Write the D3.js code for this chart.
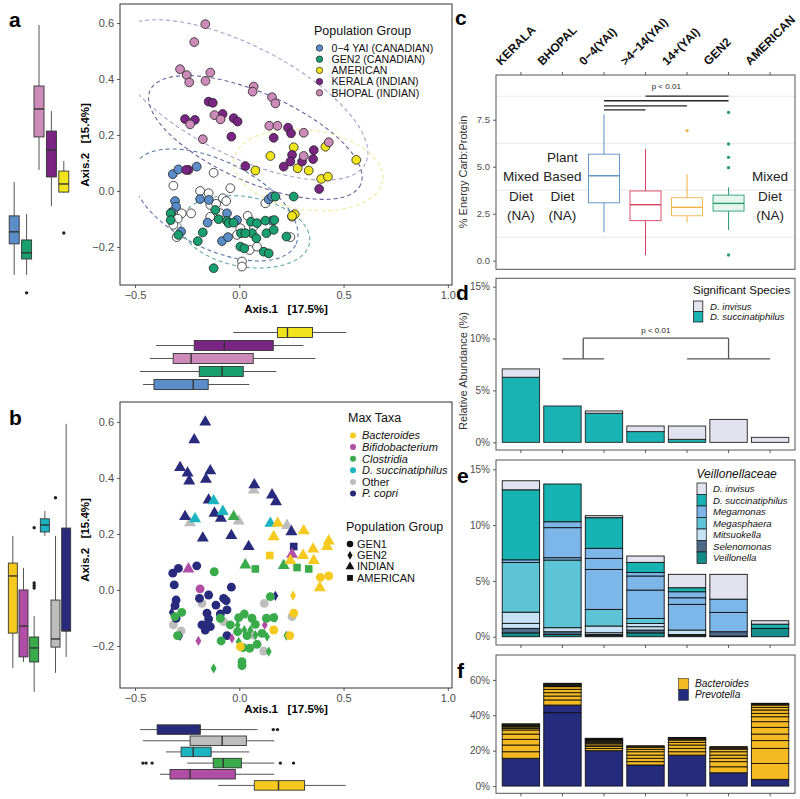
<!DOCTYPE html>
<html><head><meta charset="utf-8">
<script src="https://cdn.jsdelivr.net/npm/d3@7"></script>
<style>body{margin:0;background:#fff;} text{font-family:"Liberation Sans",Arial,Helvetica,sans-serif;}</style>
</head><body><script>
// ---------------- DATA ----------------
const aGroups = ["0−4 YAI (CANADIAN)","GEN2 (CANADIAN)","AMERICAN","KERALA (INDIAN)","BHOPAL (INDIAN)"];
const aColors = ["#5b8ec9","#18a070","#f0e41c","#7a2584","#cc8bb9"];
const aPtsOther = [[-0.123,0.065],[-0.316,0.019],[-0.188,0.0],[-0.147,-0.008],[-0.079,-0.026],[-0.063,-0.036],[-0.043,0.010],[-0.276,-0.080],[-0.295,-0.099],[-0.316,-0.121],[-0.300,-0.165],[-0.231,-0.080],[-0.139,-0.050],[-0.111,-0.046],[-0.139,-0.092],[-0.091,-0.080],[0.040,-0.089],[0.069,-0.127],[0.050,-0.211],[0.085,-0.199],[0.013,-0.252],[0.013,-0.270],[0.125,-0.044],[0.245,-0.165],[0.253,-0.092],[0.005,-0.133],[-0.011,-0.157]];
const aPts04 = [[-0.319,0.060],[-0.292,0.077],[-0.204,0.087],[-0.308,-0.036],[-0.303,-0.056],[-0.324,-0.076],[-0.279,-0.145],[-0.188,-0.029],[-0.146,-0.032],[-0.059,-0.080],[-0.011,-0.104],[-0.083,-0.179],[-0.054,-0.165],[0.157,-0.106],[0.141,-0.030],[0.157,-0.020],[-0.152,-0.113]];
const aPtsGen2 = [[-0.329,-0.080],[-0.329,-0.104],[-0.292,-0.157],[-0.199,-0.179],[-0.175,-0.148],[-0.115,-0.068],[-0.099,-0.101],[-0.059,-0.107],[0.008,-0.151],[0.005,-0.199],[0.024,-0.205],[0.056,-0.110],[0.085,-0.115],[0.061,-0.151],[0.082,-0.169],[0.117,-0.217],[0.141,-0.223],[0.168,-0.104],[0.125,-0.106],[0.130,-0.151],[0.165,-0.139],[0.226,-0.163],[0.261,-0.020],[0.173,-0.020],[-0.123,-0.276],[0.029,-0.151],[-0.051,-0.115],[-0.027,-0.113]];
const aPtsAmerican = [[0.261,0.156],[0.149,0.125],[0.280,0.081],[0.333,0.073],[0.077,0.073],[0.413,0.158],[0.561,0.111],[0.393,0.043],[0.425,0.051],[0.266,-0.083],[0.253,-0.089]];
const aPtsKerala = [[-0.147,0.319],[-0.127,0.315],[-0.260,0.257],[-0.213,0.254],[-0.080,0.275],[-0.027,0.260],[-0.008,0.248],[-0.038,0.194],[0.234,0.226],[0.248,0.206],[0.165,0.190],[0.357,0.146],[0.253,0.129],[0.245,0.105],[0.213,0.087],[0.301,0.105],[0.354,0.114],[0.029,0.089],[0.383,0.007],[-0.244,0.075],[-0.255,0.075]];
const aPtsBhopal = [[-0.163,0.596],[-0.216,0.532],[-0.284,0.435],[-0.252,0.414],[-0.240,0.388],[-0.139,0.423],[-0.162,0.393],[0.069,0.373],[0.064,0.355],[0.157,0.335],[0.173,0.313],[-0.119,0.271],[-0.090,0.256],[-0.236,0.238],[-0.175,0.185],[0.144,0.233],[0.183,0.233],[0.309,0.208],[0.429,0.174],[0.309,0.125]];
// ellipses: centre, first semi-axis vector, second semi-axis vector (data units)
const aEllipses = [
  {c:[0.005,0.325], u:[0.600,-0.227], v:[-0.120,-0.175], col:"#ab9fcb"},
  {c:[0.077,0.191], u:[0.505,-0.168], v:[-0.086,-0.144], col:"#6f5f9f"},
  {c:[0.332,0.075], u:[0.357,-0.037], v:[-0.027,-0.141], col:"#ecec9c"},
  {c:[-0.115,-0.05], u:[0.385,-0.143], v:[-0.095,-0.140], col:"#5878aa"},
  {c:[0.029,-0.146], u:[0.308,-0.040], v:[-0.029,-0.123], col:"#5fa8a8"}
];
// boxplot stats [lowWhisker,q1,median,q3,highWhisker], in aGroups order
const aBoxY = [[-0.30,-0.189,-0.146,-0.089,0.032],[-0.30,-0.243,-0.221,-0.175,-0.082],[-0.007,-0.004,0.025,0.071,0.107],[-0.054,0.05,0.146,0.214,0.286],[0.075,0.193,0.293,0.375,0.593]];
const aBoxYOut = [[],[-0.364],[-0.15],[],[]];
const aBoxX = [[-0.462,-0.409,-0.221,-0.149,0.048],[-0.476,-0.192,-0.082,0.019,0.178],[-0.029,0.183,0.231,0.351,0.514],[-0.399,-0.216,-0.072,0.163,0.308],[-0.428,-0.317,-0.231,0.067,0.365]];
const aBoxXOut = [[],[],[],[],[]];

const bTaxa = ["Bacteroides","Bifidobacterium","Clostridia","D. succinatiphilus","Other","P. copri"];
const bColors = ["#f6c91e","#b04ea6","#3aab4b","#1ab5c1","#bdbdbd","#282b7b"];
const bShapesNames = ["GEN1","GEN2","INDIAN","AMERICAN"];
// points [x, y, shape] ; shape: C=GEN1 circle, D=GEN2 diamond, T=INDIAN triangle, S=AMERICAN square
const bPtsBacteroides = [[0.184,0.238,"T"],[0.165,0.190,"T"],[0.309,0.211,"T"],[0.354,0.146,"T"],[0.306,0.123,"T"],[0.357,0.105,"T"],[0.245,0.105,"T"],[0.386,0.008,"T"],[0.429,0.175,"T"],[0.421,0.155,"T"],[0.146,0.123,"S"],[0.389,0.045,"C"],[0.429,0.050,"C"],[0.261,-0.083,"C"],[0.165,-0.143,"C"],[0.242,-0.163,"C"],[0.005,-0.202,"C"],[0.258,-0.020,"D"]];
const bPtsBifido = [[0.253,0.127,"T"],[-0.244,0.075,"T"],[-0.188,0.004,"C"],[-0.196,-0.182,"D"],[0.122,-0.125,"D"],[-0.035,-0.173,"D"]];
const bPtsClostridia = [[-0.027,0.262,"T"],[0.029,0.089,"T"],[0.213,0.087,"T"],[0.077,0.075,"S"],[0.277,0.080,"S"],[0.333,0.075,"S"],[-0.120,0.065,"C"],[-0.276,-0.080,"C"],[-0.308,-0.095,"C"],[-0.296,-0.163,"C"],[-0.087,-0.182,"C"],[-0.003,-0.099,"C"],[0.024,-0.086,"C"],[0.061,-0.101,"C"],[0.077,-0.123,"C"],[0.109,-0.155,"C"],[0.018,-0.206,"C"],[0.050,-0.208,"C"],[0.085,-0.194,"C"],[0.130,-0.101,"C"],[0.165,-0.099,"C"],[0.149,-0.024,"C"],[-0.008,-0.149,"C"],[0.037,-0.163,"C"],[0.013,-0.256,"C"],[0.013,-0.270,"C"],[-0.091,-0.101,"C"],[-0.043,-0.125,"C"],[-0.008,-0.125,"D"],[0.024,-0.143,"D"],[0.053,-0.143,"D"],[0.077,-0.161,"D"],[-0.003,-0.185,"D"],[0.141,-0.220,"D"],[0.173,-0.099,"D"],[-0.123,-0.280,"D"],[0.226,-0.163,"D"],[0.133,-0.167,"D"]];
const bPtsDsucc = [[-0.123,0.318,"T"],[-0.212,0.254,"T"],[-0.079,0.280,"T"],[0.149,0.238,"T"]];
const bPtsOther = [[-0.236,0.240,"T"],[-0.003,0.246,"T"],[0.069,0.357,"T"],[0.229,0.230,"T"],[-0.316,-0.125,"C"],[-0.279,-0.146,"C"],[0.120,-0.048,"C"],[0.253,-0.095,"C"],[-0.179,-0.048,"C"],[-0.075,-0.113,"C"],[0.117,-0.218,"C"],[0.069,-0.161,"C"]];
const bPtsPcopri = [[-0.163,0.599,"T"],[-0.216,0.536,"T"],[-0.284,0.437,"T"],[-0.248,0.417,"T"],[-0.240,0.389,"T"],[-0.139,0.425,"T"],[-0.160,0.395,"T"],[0.072,0.375,"T"],[0.157,0.339,"T"],[0.176,0.315,"T"],[-0.147,0.321,"T"],[-0.119,0.274,"T"],[-0.088,0.256,"T"],[-0.260,0.262,"T"],[-0.175,0.185,"T"],[-0.038,0.194,"T"],[0.045,0.155,"T"],[0.250,0.208,"T"],[0.261,0.155,"S"],[-0.319,0.060,"C"],[-0.292,0.077,"C"],[-0.204,0.086,"C"],[-0.312,0.018,"C"],[-0.303,-0.036,"C"],[-0.308,-0.056,"C"],[-0.191,-0.030,"C"],[-0.147,-0.018,"C"],[-0.075,-0.030,"C"],[-0.063,-0.038,"C"],[-0.038,0.010,"C"],[-0.112,-0.054,"C"],[-0.091,-0.086,"C"],[-0.059,-0.071,"C"],[-0.155,-0.083,"C"],[-0.147,-0.104,"C"],[-0.155,-0.125,"C"],[-0.163,-0.143,"C"],[-0.139,-0.131,"C"],[-0.179,-0.125,"C"],[-0.059,-0.163,"C"],[-0.303,-0.101,"C"],[-0.324,-0.080,"D"],[0.173,-0.021,"D"],[-0.284,-0.164,"D"]];
const bBoxY = [[-0.279,-0.154,0.05,0.096,0.193],[-0.257,-0.239,-0.129,0,0.079],[-0.364,-0.257,-0.207,-0.168,-0.093],[0.193,0.207,0.232,0.254,0.282],[-0.296,-0.204,-0.175,-0.036,0.193],[-0.239,-0.146,-0.146,0.221,0.593]];
const bBoxYOut = [[],[],[0.025,0.016,0.007,0.222],[],[0.329],[]];
const bBoxX = [[-0.101,0.072,0.188,0.313,0.51],[-0.38,-0.332,-0.236,-0.019,0.168],[-0.25,-0.125,-0.077,0.01,0.168],[-0.351,-0.279,-0.221,-0.135,0.048],[-0.462,-0.236,-0.082,0.034,0.168],[-0.476,-0.394,-0.188,-0.188,0.087]];
const bBoxXOut = [[],[],[-0.462,-0.447,-0.418,0.197,0.26],[],[],[0.163,0.183]];

const groups = ["KERALA","BHOPAL","0−4(YAI)",">4−14(YAI)","14+(YAI)","GEN2","AMERICAN"];
const cBoxGroups = ["0−4(YAI)",">4−14(YAI)","14+(YAI)","GEN2"];
const cBoxStats = [[1.51,3.08,4.52,5.67,7.79],[0.3,2.13,2.98,3.71,5.94],[2.02,2.39,2.84,3.35,4.61],[1.63,2.64,3.05,3.49,3.9]];
const cBoxOut = [[],[],[6.92],[7.89,6.21,5.5,4.95,0.3]];
const cBoxColors = ["#5b8ec9","#d8405d","#f0b347","#2a9d78"];
const cBoxFills = ["#ffffff","#ffffff","#ffffff","#e6f6ef"];
const cSig = [[">4−14(YAI)","GEN2",8.76],["0−4(YAI)","GEN2",8.51],["0−4(YAI)","14+(YAI)",8.24],["0−4(YAI)",">4−14(YAI)",8.02]];
const cNotes = [["KERALA",["Mixed","Diet","(NA)"]],["BHOPAL",["Plant","Based","Diet","(NA)"]],["AMERICAN",["Mixed","Diet","(NA)"]]];

const dSpecies = ["D. invisus","D. succinatiphilus"];
const dColors = ["#e3e3ef","#19b3b3"];
const dSucc = [6.27,3.5,2.8,1.03,0.29,0,0];
const dInvisus = [0.8,0,0.22,0.54,1.28,2.21,0.48];

const eGenera = ["D. invisus","D. succinatiphilus","Megamonas","Megasphaera","Mitsuokella","Selenomonas","Veillonella"];
const eColors = ["#e3e3ef","#17b3b3","#7db6e8","#5dc4d6","#c5e3f5","#4d6b88","#148c8c"];
const eInvisus = [[0.81],[0],[0.18],[0.57],[1.2],[2.22],[0.3]];
const eSucc = [[6.27],[3.38],[2.74],[0.9],[0.36],[0],[0.38]];
const eMegamonas = [[0.24],[0.21,2.69,0.53],[3.58,0.99,0.9],[2.54,1.26,0.32],[2.3,0.59,0.54],[1.73,1.19],[0]];
const eMegasphaera = [[4.45],[6.06],[1.49],[0.45],[0],[0],[0]];
const eMitsuokella = [[0.45,1.0],[0.36],[0.16,0.6],[0.3,0.29],[0.4],[0],[0]];
const eSelenomonas = [[0.4],[0.25],[0.1],[0.25],[0.1],[0.39],[0]];
const eVeillonella = [[0.35],[0.2],[0.1],[0.35],[0.1],[0.06],[0.75]];

const fGenera = ["Bacteroides","Prevotella"];
const fColors = ["#f5b921","#252b7d"];
const fPrevotella = [[15.7],[41.5,4.3],[20],[11.9],[17.5],[7.5],[3.8]];
const fBacteroides = [[3.7,3.8,3.2,3.0,2.3,0.9,0.8,0.5,0.4,0.3,0.3,0.3],[2.9,2.2,1.9,1.9,1.5,0.4,0.4,0.3,0.3,0.3,0.2],[1.2,1.1,0.9,0.8,0.7,0.6,0.5,0.4,0.4,0.4],[1.9,1.9,1.8,1.9,1.4,1.1,0.5,0.4],[1.9,1.9,1.9,1.5,1.3,0.6,0.5,0.4],[3.4,2.9,1.9,1.8,1.9,1.4,0.6,0.5,0.4],[9,8.5,4.4,3.7,3.8,3.2,2.8,1.9,1.9,1.5,1.3,0.5,0.5]];

// ---------------- DRAW ----------------
const svg = d3.select("body").append("svg").attr("width",800).attr("height",799);
const TXT = "#4d4d4d";
const NB = "\u00a0\u00a0\u00a0";
function styleAxis(g, fs){
  g.select(".domain").remove();
  g.selectAll(".tick line").attr("stroke","#333").attr("stroke-width",0.8);
  g.selectAll(".tick text").attr("fill",TXT).style("font-size",fs+"px");
}
function vBox(g, cx, w, s, ys, fill, stroke, wcol, outs){
  g.append("line").attr("x1",cx).attr("x2",cx).attr("y1",ys(s[0])).attr("y2",ys(s[1])).attr("stroke",wcol).attr("stroke-width",1);
  g.append("line").attr("x1",cx).attr("x2",cx).attr("y1",ys(s[3])).attr("y2",ys(s[4])).attr("stroke",wcol).attr("stroke-width",1);
  g.append("rect").attr("x",cx-w/2).attr("width",w).attr("y",ys(s[3])).attr("height",ys(s[1])-ys(s[3])).attr("fill",fill).attr("stroke",stroke).attr("stroke-width",0.9);
  g.append("line").attr("x1",cx-w/2).attr("x2",cx+w/2).attr("y1",ys(s[2])).attr("y2",ys(s[2])).attr("stroke",stroke).attr("stroke-width",1.4);
  (outs||[]).forEach(o=>g.append("circle").attr("cx",cx).attr("cy",ys(o)).attr("r",1.7).attr("fill",stroke==="#333"?"#222":stroke));
}
function hBox(g, cy, h, s, xs, fill, stroke, wcol, outs){
  g.append("line").attr("y1",cy).attr("y2",cy).attr("x1",xs(s[0])).attr("x2",xs(s[1])).attr("stroke",wcol).attr("stroke-width",1);
  g.append("line").attr("y1",cy).attr("y2",cy).attr("x1",xs(s[3])).attr("x2",xs(s[4])).attr("stroke",wcol).attr("stroke-width",1);
  g.append("rect").attr("y",cy-h/2).attr("height",h).attr("x",xs(s[1])).attr("width",xs(s[3])-xs(s[1])).attr("fill",fill).attr("stroke",stroke).attr("stroke-width",0.9);
  g.append("line").attr("y1",cy-h/2).attr("y2",cy+h/2).attr("x1",xs(s[2])).attr("x2",xs(s[2])).attr("stroke",stroke).attr("stroke-width",1.4);
  (outs||[]).forEach(o=>g.append("circle").attr("cy",cy).attr("cx",xs(o)).attr("r",1.7).attr("fill","#222"));
}
function panelLabel(t,x,y){ svg.append("text").attr("x",x).attr("y",y).text(t).style("font-size","21px").style("font-weight","bold").attr("fill","#000"); }

// ===== Panel a =====
const xA = d3.scaleLinear().domain([-0.572,1.02]).range([120,452]);
const yA = d3.scaleLinear().domain([-0.336,0.668]).range([285,4]);
const gA = svg.append("g");
gA.append("rect").attr("x",120).attr("y",4).attr("width",332).attr("height",281).attr("fill","#fff").attr("stroke","#333").attr("stroke-width",1);
styleAxis(gA.append("g").attr("transform","translate(120,0)").call(d3.axisLeft(yA).tickValues([-0.2,0,0.2,0.4,0.6]).tickFormat(d3.format(".1f")).tickSize(3)),11);
styleAxis(gA.append("g").attr("transform","translate(0,285)").call(d3.axisBottom(xA).tickValues([-0.5,0,0.5,1.0]).tickFormat(d3.format(".1f")).tickSize(3)),11);
gA.append("text").attr("transform","translate(89,145) rotate(-90)").attr("text-anchor","middle").text("Axis.2"+NB+"[15.4%]").style("font-size","11.5px").style("font-weight","bold");
gA.append("text").attr("x",286).attr("y",313).attr("text-anchor","middle").text("Axis.1"+NB+"[17.5%]").style("font-size","11.5px").style("font-weight","bold");
svg.append("clipPath").attr("id","clipA").append("rect").attr("x",xA(-0.48)).attr("y",4).attr("width",452-xA(-0.48)).attr("height",281);
function ellPath(e, xs, ys){
  const pts = d3.range(0,101).map(i=>{const t=i/100*2*Math.PI; return [xs(e.c[0]+e.u[0]*Math.cos(t)+e.v[0]*Math.sin(t)), ys(e.c[1]+e.u[1]*Math.cos(t)+e.v[1]*Math.sin(t))];});
  return d3.line()(pts);
}
const gEll = gA.append("g").attr("clip-path","url(#clipA)");
aEllipses.forEach(e=>gEll.append("path").attr("d",ellPath(e,xA,yA)).attr("fill","none").attr("stroke",e.col).attr("stroke-width",1.1).attr("stroke-dasharray","4,3"));
const aSets = [[aPtsOther,"#ffffff"],[aPts04,aColors[0]],[aPtsGen2,aColors[1]],[aPtsAmerican,aColors[2]],[aPtsKerala,aColors[3]],[aPtsBhopal,aColors[4]]];
aSets.forEach(([pts,col])=>{
  gA.append("g").selectAll("circle").data(pts).join("circle").attr("cx",d=>xA(d[0])).attr("cy",d=>yA(d[1])).attr("r",4.4).attr("fill",col).attr("stroke","#222").attr("stroke-width",0.8);
});
// legend a
gA.append("text").attr("x",314).attr("y",35).text("Population Group").style("font-size","12.5px").attr("fill","#111");
aGroups.forEach((g,i)=>{
  const yy = 48+i*11.2;
  gA.append("circle").attr("cx",319.5).attr("cy",yy).attr("r",3.2).attr("fill",aColors[i]).attr("stroke","#222").attr("stroke-width",0.7);
  gA.append("text").attr("x",331.5).attr("y",yy).attr("dy","0.35em").text(g).style("font-size","10.6px").attr("fill","#111");
});
// boxplots a
const vOrderA = [0,1,4,3,2];
const vPosA = d3.scalePoint().domain(vOrderA).range([8,70]).padding(0.5);
vOrderA.forEach(i=>vBox(gA, vPosA(i), 10, aBoxY[i], yA, aColors[i], "#333", "#555", aBoxYOut[i]));
const hOrderA = [2,3,4,1,0];
const hPosA = d3.scalePoint().domain(hOrderA).range([326,391]).padding(0.5);
hOrderA.forEach(i=>hBox(gA, hPosA(i), 10, aBoxX[i], xA, aColors[i], "#333", "#555", aBoxXOut[i]));
panelLabel("a",9,27);

// ===== Panel b =====
const xB = d3.scaleLinear().domain([-0.572,1.02]).range([120,452]);
const yB = d3.scaleLinear().domain([-0.35,0.671]).range([688,402]);
const gB = svg.append("g");
gB.append("rect").attr("x",120).attr("y",402).attr("width",332).attr("height",286).attr("fill","#fff").attr("stroke","#333").attr("stroke-width",1);
styleAxis(gB.append("g").attr("transform","translate(120,0)").call(d3.axisLeft(yB).tickValues([-0.2,0,0.2,0.4,0.6]).tickFormat(d3.format(".1f")).tickSize(3)),11);
styleAxis(gB.append("g").attr("transform","translate(0,688)").call(d3.axisBottom(xB).tickValues([-0.5,0,0.5,1.0]).tickFormat(d3.format(".1f")).tickSize(3)),11);
gB.append("text").attr("transform","translate(89,540) rotate(-90)").attr("text-anchor","middle").text("Axis.2"+NB+"[15.4%]").style("font-size","11.5px").style("font-weight","bold");
gB.append("text").attr("x",286).attr("y",713).attr("text-anchor","middle").text("Axis.1"+NB+"[17.5%]").style("font-size","11.5px").style("font-weight","bold");
const shapeType = {C:d3.symbolCircle,D:d3.symbolDiamond,T:d3.symbolTriangle,S:d3.symbolSquare};
const shapeSize = {C:62,D:30,T:62,S:58};
const bSets = [bPtsOther,bPtsPcopri,bPtsBifido,bPtsClostridia,bPtsDsucc,bPtsBacteroides];
const bSetCol = [bColors[4],bColors[5],bColors[1],bColors[2],bColors[3],bColors[0]];
bSets.forEach((pts,k)=>{
  gB.append("g").selectAll("path").data(pts).join("path")
    .attr("transform",d=>`translate(${xB(d[0])},${yB(d[1])})`)
    .attr("d",d=>d3.symbol(shapeType[d[2]],shapeSize[d[2]])())
    .attr("fill",bSetCol[k]);
});
gB.append("text").attr("x",348).attr("y",422).text("Max Taxa").style("font-size","12.5px").attr("fill","#111");
bTaxa.forEach((t,i)=>{
  const yy = 435.5+i*11.6;
  gB.append("circle").attr("cx",353).attr("cy",yy).attr("r",3).attr("fill",bColors[i]);
  gB.append("text").attr("x",362).attr("y",yy).attr("dy","0.35em").text(t).style("font-size","11px").style("font-style",t==="Other"?"normal":"italic").attr("fill","#111");
});
gB.append("text").attr("x",346).attr("y",531).text("Population Group").style("font-size","12.5px").attr("fill","#111");
bShapesNames.forEach((t,i)=>{
  const yy = 544+i*11.3; const code = ["C","D","T","S"][i];
  gB.append("path").attr("transform",`translate(350,${yy})`).attr("d",d3.symbol(shapeType[code],code==="D"?22:34)()).attr("fill","#111");
  gB.append("text").attr("x",357).attr("y",yy).attr("dy","0.35em").text(t).style("font-size","11px").attr("fill","#111");
});
const vOrderB = [0,1,2,3,4,5];
const vPosB = d3.scalePoint().domain(vOrderB).range([7.5,71.5]).padding(0.5);
vOrderB.forEach(i=>vBox(gB, vPosB(i), 9, bBoxY[i], yB, bColors[i], "#333", "#555", bBoxYOut[i]));
const hOrderB = [5,4,3,2,1,0];
const hPosB = d3.scalePoint().domain(hOrderB).range([724,791]).padding(0.5);
hOrderB.forEach(i=>hBox(gB, hPosB(i), 9.5, bBoxX[i], xB, bColors[i], "#333", "#555", bBoxXOut[i]));
panelLabel("b",9,425);

// ===== shared x for c-f =====
const xG = d3.scalePoint().domain(groups).range([496,795]).padding(0.6);
const barW = xG.step()*0.9;
function frame(y0,y1){ svg.append("rect").attr("x",496).attr("y",y0).attr("width",299).attr("height",y1-y0).attr("fill","none").attr("stroke","#555").attr("stroke-width",1); }
function bottomTicks(y){ groups.forEach(g=>svg.append("line").attr("x1",xG(g)).attr("x2",xG(g)).attr("y1",y).attr("y2",y+3).attr("stroke","#333").attr("stroke-width",0.8)); }

// ===== Panel c =====
const yC = d3.scaleLinear().domain([-0.457,9.88]).range([269.3,75]);
const gC = svg.append("g");
[1.25,3.75,6.25,8.75].forEach(v=>gC.append("line").attr("x1",496).attr("x2",795).attr("y1",yC(v)).attr("y2",yC(v)).attr("stroke","#e3e3e3").attr("stroke-width",0.8));
styleAxis(gC.append("g").attr("transform","translate(496,0)").call(d3.axisLeft(yC).tickValues([0,2.5,5,7.5]).tickFormat(d3.format(".1f")).tickSize(3)),9.5);
groups.forEach(g=>{
  gC.append("line").attr("x1",xG(g)).attr("x2",xG(g)).attr("y1",72).attr("y2",75).attr("stroke","#333").attr("stroke-width",0.8);
  gC.append("text").attr("transform",`translate(${xG(g)-20},66) rotate(-45)`).text(g).style("font-size","12px").style("font-weight","bold").attr("fill","#111");
});
gC.append("text").attr("transform","translate(467,172) rotate(-90)").attr("text-anchor","middle").text("% Energy Carb:Protein").style("font-size","11px").attr("fill","#333");
cBoxGroups.forEach((g,i)=>vBox(gC, xG(g), 31, cBoxStats[i], yC, cBoxFills[i], cBoxColors[i], cBoxColors[i], cBoxOut[i]));
cSig.forEach(s=>gC.append("line").attr("x1",xG(s[0])).attr("x2",xG(s[1])).attr("y1",yC(s[2])).attr("y2",yC(s[2])).attr("stroke","#222").attr("stroke-width",1.3));
gC.append("text").attr("x",(xG(">4−14(YAI)")+xG("14+(YAI)"))/2).attr("y",yC(9.12)).attr("text-anchor","middle").text("p < 0.01").style("font-size","8px").attr("fill","#222");
cNotes.forEach(([g,lines])=>{
  const start = lines.length===4 ? 157.3 : 176.7;
  lines.forEach((l,k)=>gC.append("text").attr("x",xG(g)).attr("y",start+k*19.3).attr("dy","0.35em").attr("text-anchor","middle").text(l).style("font-size","13.5px").attr("fill","#222"));
});
frame(75,269.3);
panelLabel("c",455,25);

// ===== Panel d =====
const yD = d3.scaleLinear().domain([-0.74,15.8]).range([450,278.3]);
const gD = svg.append("g");
styleAxis(gD.append("g").attr("transform","translate(496,0)").call(d3.axisLeft(yD).tickValues([0,5,10,15]).tickFormat(d=>d+"%").tickSize(3)),10);
groups.forEach((g,i)=>{
  const x0 = xG(g)-barW/2;
  if(dSucc[i]>0) gD.append("rect").attr("x",x0).attr("width",barW).attr("y",yD(dSucc[i])).attr("height",yD(0)-yD(dSucc[i])).attr("fill",dColors[1]).attr("stroke","#222").attr("stroke-width",0.9);
  if(dInvisus[i]>0) gD.append("rect").attr("x",x0).attr("width",barW).attr("y",yD(dSucc[i]+dInvisus[i])).attr("height",yD(dSucc[i])-yD(dSucc[i]+dInvisus[i])).attr("fill",dColors[0]).attr("stroke","#222").attr("stroke-width",0.9);
});
gD.append("text").attr("transform","translate(467,371) rotate(-90)").attr("text-anchor","middle").text("Relative Abundance (%)").style("font-size","11px").attr("fill","#333");
const bl = (xG("BHOPAL")+xG("0−4(YAI)"))/2, br = (xG("14+(YAI)")+xG("AMERICAN"))/2;
const brk = [[bl,10.03,br,10.03],[bl,10.03,bl,8.03],[br,10.03,br,8.03],[xG("BHOPAL"),8.03,xG("0−4(YAI)"),8.03],[xG("14+(YAI)"),8.03,xG("AMERICAN"),8.03]];
brk.forEach(b=>gD.append("line").attr("x1",b[0]).attr("y1",yD(b[1])).attr("x2",b[2]).attr("y2",yD(b[3])).attr("stroke","#555").attr("stroke-width",1.3));
gD.append("text").attr("x",(bl+br)/2).attr("y",yD(10.5)).attr("text-anchor","middle").text("p < 0.01").style("font-size","8px").attr("fill","#222");
gD.append("text").attr("x",693).attr("y",294).text("Significant Species").style("font-size","11.5px").attr("fill","#111");
dSpecies.forEach((s,i)=>{
  const yy = 301+i*10.5;
  gD.append("rect").attr("x",693.5).attr("y",yy).attr("width",9.3).attr("height",10.5).attr("fill",dColors[i]).attr("stroke","#222").attr("stroke-width",0.8);
  gD.append("text").attr("x",710).attr("y",yy+5.5).attr("dy","0.35em").text(s).style("font-size","9.6px").style("font-style","italic").attr("fill","#111");
});
frame(278.3,450); bottomTicks(450);
panelLabel("d",456,300);

// ===== Panel e =====
const yE = d3.scaleLinear().domain([-0.74,15.83]).range([645,460]);
const gE = svg.append("g");
styleAxis(gE.append("g").attr("transform","translate(496,0)").call(d3.axisLeft(yE).tickValues([0,5,10,15]).tickFormat(d=>d+"%").tickSize(3)),10);
const eStack = [[eVeillonella,6],[eSelenomonas,5],[eMitsuokella,4],[eMegasphaera,3],[eMegamonas,2],[eSucc,1],[eInvisus,0]];
groups.forEach((g,i)=>{
  let cum = 0; const x0 = xG(g)-barW/2;
  eStack.forEach(([arr,ci])=>{
    arr[i].forEach(v=>{
      if(v<=0) return;
      gE.append("rect").attr("x",x0).attr("width",barW).attr("y",yE(cum+v)).attr("height",yE(cum)-yE(cum+v)).attr("fill",eColors[ci]).attr("stroke","#111").attr("stroke-width",0.9);
      cum += v;
    });
  });
});
gE.append("text").attr("x",696.5).attr("y",477.5).text("Veillonellaceae").style("font-size","12px").style("font-style","italic").attr("fill","#111");
eGenera.forEach((s,i)=>{
  const yy = 483+i*11.5;
  gE.append("rect").attr("x",697).attr("y",yy).attr("width",9.3).attr("height",11.5).attr("fill",eColors[i]).attr("stroke","#222").attr("stroke-width",0.8);
  gE.append("text").attr("x",713).attr("y",yy+5.8).attr("dy","0.35em").text(s).style("font-size","9.6px").style("font-style","italic").attr("fill","#111");
});
frame(460,645); bottomTicks(645);
panelLabel("e",457,483);

// ===== Panel f =====
const yF = d3.scaleLinear().domain([-4.1,74.1]).range([793.3,655]);
const gF = svg.append("g");
styleAxis(gF.append("g").attr("transform","translate(496,0)").call(d3.axisLeft(yF).tickValues([0,20,40,60]).tickFormat(d=>d+"%").tickSize(3)),10);
groups.forEach((g,i)=>{
  let cum = 0; const x0 = xG(g)-barW/2;
  [[fPrevotella,1],[fBacteroides,0]].forEach(([arr,ci])=>{
    arr[i].forEach(v=>{
      gF.append("rect").attr("x",x0).attr("width",barW).attr("y",yF(cum+v)).attr("height",yF(cum)-yF(cum+v)).attr("fill",fColors[ci]).attr("stroke","#111").attr("stroke-width",0.9);
      cum += v;
    });
  });
});
fGenera.forEach((s,i)=>{
  const yy = 678.3+i*11;
  gF.append("rect").attr("x",678.5).attr("y",yy).attr("width",10).attr("height",11).attr("fill",fColors[i]).attr("stroke","#333").attr("stroke-width",0.6);
  gF.append("text").attr("x",695).attr("y",yy+5.5).attr("dy","0.35em").text(s).style("font-size","10.2px").style("font-style","italic").attr("fill","#111");
});
frame(655,793.3); bottomTicks(793.3);
panelLabel("f",457,678);
</script></body></html>
